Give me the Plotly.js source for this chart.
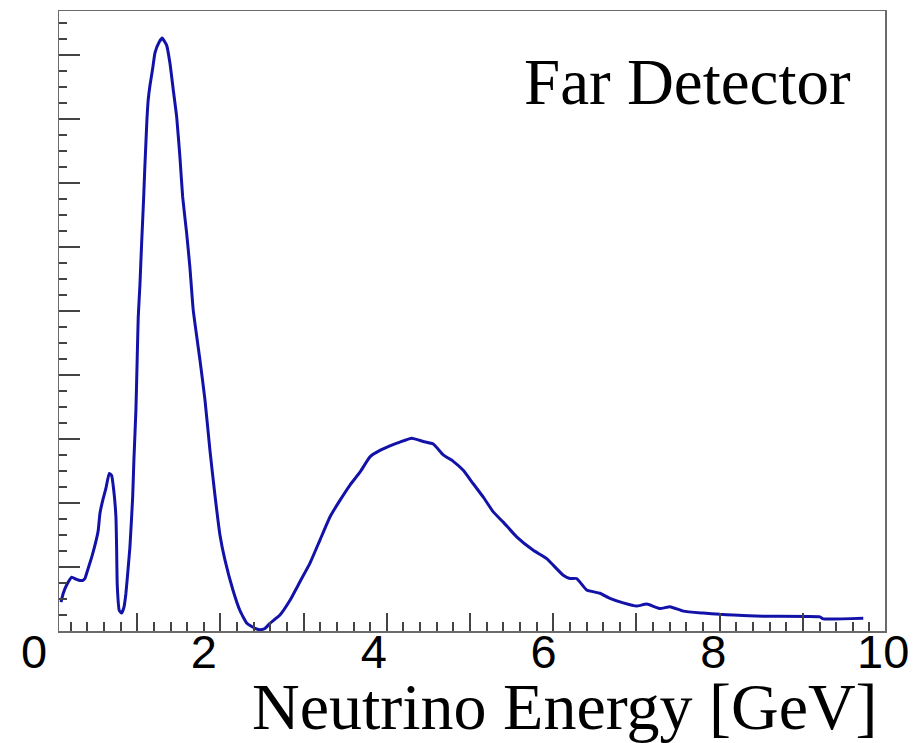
<!DOCTYPE html>
<html>
<head>
<meta charset="utf-8">
<script src="https://cdn.plot.ly/plotly-3.0.1.min.js"></script>
<style>html,body{margin:0;padding:0;background:#fff;}#chart{width:921px;height:743px;}</style>
</head>
<body>
<div id="chart"></div>
<script>
// Neutrino energy (GeV) and relative flux (arbitrary units)
const energy = [0.083,0.111,0.156,0.212,0.263,0.311,0.347,0.371,0.411,0.452,0.492,0.531,0.552,0.591,0.624,0.663,0.692,0.720,0.744,0.752,0.760,0.784,0.812,0.840,0.864,0.892,0.912,0.945,0.960,0.984,1.000,1.012,1.032,1.053,1.075,1.090,1.105,1.117,1.132,1.153,1.185,1.213,1.264,1.300,1.353,1.393,1.433,1.474,1.513,1.546,1.594,1.633,1.673,1.754,1.814,1.874,1.934,1.994,2.054,2.150,2.234,2.318,2.415,2.475,2.535,2.595,2.715,2.836,2.956,3.076,3.196,3.316,3.436,3.557,3.677,3.797,3.917,4.037,4.157,4.298,4.438,4.558,4.678,4.798,4.918,5.038,5.159,5.279,5.399,5.560,5.760,5.921,6.120,6.200,6.281,6.401,6.561,6.681,6.841,7.002,7.123,7.283,7.403,7.563,7.803,8.003,8.163,8.524,9.205,9.245,9.726];
const flux = [0.45,0.59,0.73,0.84,0.81,0.79,0.79,0.82,0.98,1.15,1.34,1.57,1.84,2.07,2.23,2.46,2.43,2.17,1.78,1.31,0.71,0.32,0.28,0.37,0.59,1.00,1.31,2.09,2.67,3.45,4.28,4.90,5.40,6.06,6.70,7.20,7.65,8.00,8.30,8.52,8.78,9.03,9.20,9.26,9.15,8.87,8.45,8.03,7.40,6.78,6.21,5.68,5.01,4.23,3.61,2.82,2.12,1.50,1.11,0.64,0.32,0.12,0.04,0.02,0.04,0.12,0.25,0.48,0.77,1.06,1.42,1.78,2.04,2.28,2.48,2.72,2.82,2.89,2.95,3.01,2.96,2.92,2.75,2.65,2.51,2.30,2.09,1.86,1.70,1.47,1.26,1.13,0.87,0.82,0.82,0.64,0.59,0.51,0.44,0.39,0.42,0.35,0.38,0.31,0.28,0.26,0.25,0.23,0.22,0.19,0.20];
const tickValues = [0, 2, 4, 6, 8, 10];
const tickLabels = ["0", "2", "4", "6", "8", "10"];
const panelLabel = "Far Detector";
const xTitle = "Neutrino Energy [GeV]";

const data = [
  {type: 'scatter', mode: 'lines', x: energy, y: flux, xaxis: 'x', yaxis: 'y',
   line: {color: '#1212a8', width: 3, shape: 'spline', smoothing: 0.4},
   showlegend: false, hoverinfo: 'skip'},
  {type: 'scatter', mode: 'lines', x: [], y: [], xaxis: 'x2', yaxis: 'y',
   showlegend: false, hoverinfo: 'skip'}
];

const frameColor = '#6a6a6a';
const tickColor = '#444444';

const layout = {
  width: 921, height: 743,
  margin: {l: 34, r: 36, t: 11, b: 112, pad: 0},
  paper_bgcolor: '#ffffff', plot_bgcolor: 'rgba(0,0,0,0)',
  showlegend: false,
  xaxis: {
    domain: [0.0297, 1], range: [0.063, 9.987], anchor: 'y',
    showline: true, mirror: true, linecolor: frameColor, linewidth: 1.5,
    ticks: 'inside', tick0: 0, dtick: 1, ticklen: 18, tickwidth: 2, tickcolor: tickColor,
    minor: {ticks: 'inside', dtick: 0.2, ticklen: 9, tickwidth: 2, tickcolor: tickColor},
    showticklabels: false, showgrid: false, zeroline: false, fixedrange: true
  },
  xaxis2: {
    domain: [0, 0.9979], range: [0, 10], anchor: 'free', position: 0.018, side: 'bottom',
    showline: false, ticks: '', tickmode: 'array', tickvals: tickValues, ticktext: tickLabels,
    tickfont: {family: 'Liberation Sans, Arial, sans-serif', size: 47, color: '#000000'},
    ticklabelstandoff: 0,
    showgrid: false, zeroline: false, fixedrange: true
  },
  yaxis: {
    domain: [0, 1], range: [0, 9.683], anchor: 'x',
    showline: true, mirror: true, linecolor: frameColor, linewidth: 1.5,
    ticks: 'inside', tick0: 0, dtick: 1, ticklen: 21, tickwidth: 2, tickcolor: tickColor,
    minor: {ticks: 'inside', dtick: 0.25, ticklen: 8, tickwidth: 2, tickcolor: tickColor},
    showticklabels: false, showgrid: false, zeroline: false, fixedrange: true
  },
  annotations: [
    {text: panelLabel, xref: 'paper', yref: 'paper', x: 0.9624, y: 0.9468,
     xanchor: 'right', yanchor: 'top', showarrow: false,
     font: {family: 'Liberation Serif, Times New Roman, serif', size: 65, color: '#000000'}},
    {text: xTitle, xref: 'paper', yref: 'paper', x: 0.9941, y: -0.0597,
     xanchor: 'right', yanchor: 'top', showarrow: false,
     font: {family: 'Liberation Serif, Times New Roman, serif', size: 66, color: '#000000'}}
  ]
};

Plotly.newPlot('chart', data, layout, {displayModeBar: false, staticPlot: true});
</script>
</body>
</html>
